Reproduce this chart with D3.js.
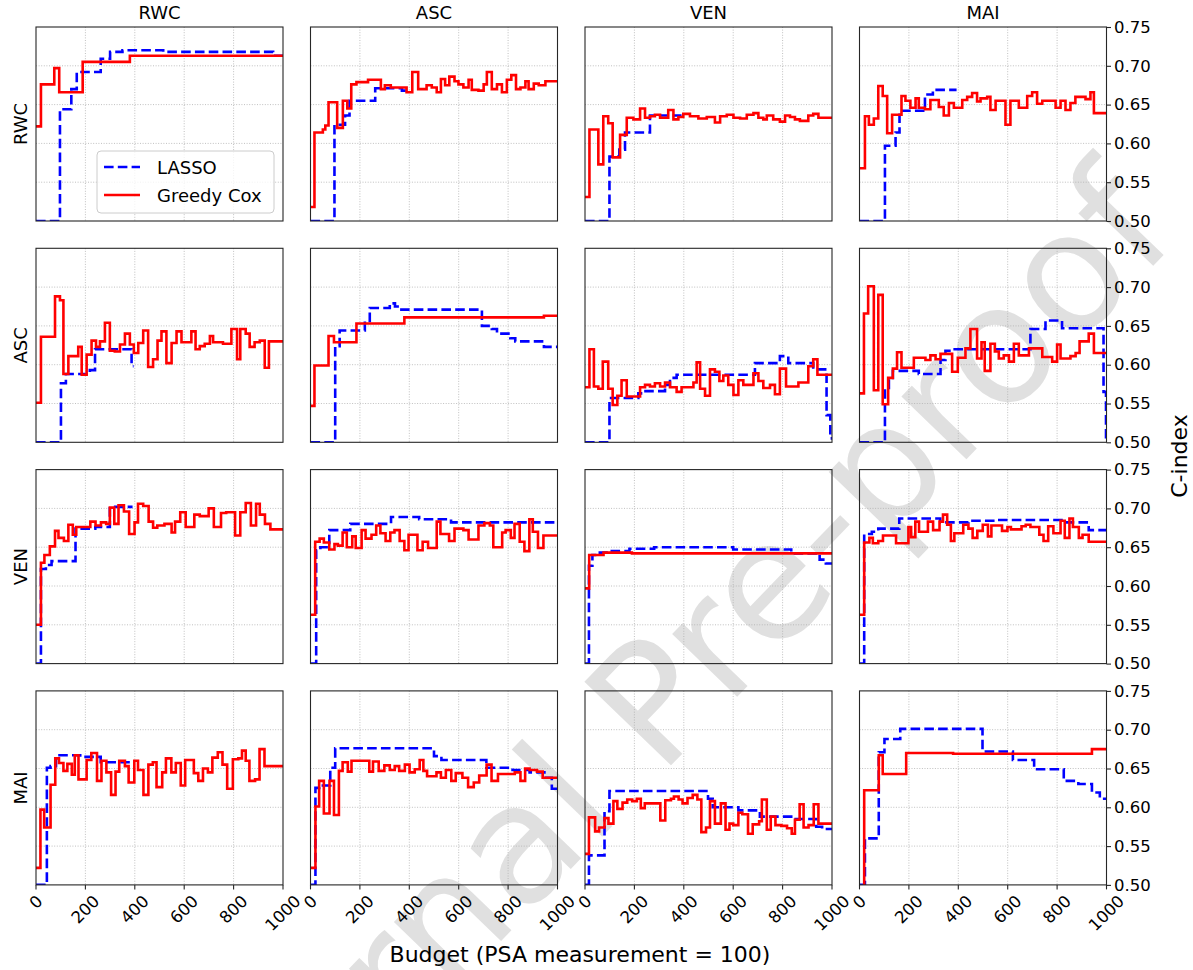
<!DOCTYPE html>
<html>
<head>
<meta charset="utf-8">
<script src="https://cdn.jsdelivr.net/npm/d3@7"></script>
<style>
    body { margin: 0; background: #fff; }
    svg { font-family: "DejaVu Sans", sans-serif; }
</style>
</head>
<body>
<svg id="chart" width="1193" height="970"></svg>
<script>
var rowNames = ["RWC", "ASC", "VEN", "MAI"];
var colNames = ["RWC", "ASC", "VEN", "MAI"];
var xTicks = [0, 200, 400, 600, 800, 1000];
var yTicks = [0.50, 0.55, 0.60, 0.65, 0.70, 0.75];
var seriesNames = ["LASSO", "Greedy Cox"];

// [budget, c-index], step after; last point = where the line stops
var greedy_RWC_RWC = [[0,0.622],[20,0.676],[74,0.697],[94,0.666],[189,0.705],[380,0.713],[1000,0.713]];
var lasso_RWC_RWC = [[0,0.5],[97,0.644],[143,0.670],[165,0.692],[262,0.709],[300,0.718],[350,0.720],[515,0.718],[960,0.713],[1000,0.713]];

var greedy_RWC_ASC = [[0,0.518],[16,0.614],[50,0.618],[60,0.623],[73,0.653],[108,0.620],[131,0.655],[149,0.645],[165,0.676],[186,0.679],[233,0.682],[285,0.670],[301,0.675],[325,0.672],[389,0.666],[412,0.692],[436,0.670],[470,0.675],[491,0.672],[511,0.666],[528,0.683],[545,0.675],[562,0.686],[583,0.680],[599,0.676],[619,0.672],[640,0.682],[653,0.669],[680,0.668],[701,0.676],[714,0.692],[734,0.670],[755,0.676],[775,0.666],[795,0.682],[813,0.688],[832,0.670],[850,0.672],[870,0.680],[883,0.670],[904,0.677],[924,0.675],[951,0.680],[1000,0.680]];
var lasso_RWC_ASC = [[0,0.5],[97,0.624],[140,0.636],[158,0.655],[262,0.671],[370,0.668],[390,0.668]];

var greedy_RWC_VEN = [[0,0.531],[18,0.618],[54,0.573],[74,0.635],[94,0.626],[112,0.582],[142,0.611],[169,0.633],[196,0.631],[223,0.645],[243,0.633],[263,0.635],[283,0.637],[304,0.633],[337,0.643],[358,0.631],[378,0.634],[398,0.638],[425,0.635],[459,0.632],[493,0.634],[526,0.627],[547,0.635],[574,0.637],[601,0.633],[628,0.632],[655,0.637],[682,0.639],[702,0.633],[722,0.631],[736,0.636],[762,0.631],[789,0.628],[810,0.636],[830,0.634],[850,0.631],[870,0.629],[904,0.636],[924,0.638],[945,0.633],[1000,0.633]];
var lasso_RWC_VEN = [[0,0.5],[99,0.583],[139,0.592],[162,0.614],[263,0.636],[391,0.636]];

var greedy_RWC_MAI = [[0,0.568],[22,0.635],[38,0.624],[58,0.632],[76,0.674],[94,0.661],[112,0.613],[132,0.637],[170,0.661],[186,0.655],[206,0.646],[227,0.658],[240,0.646],[265,0.644],[287,0.656],[321,0.647],[341,0.636],[362,0.652],[382,0.646],[416,0.656],[436,0.660],[456,0.665],[476,0.654],[490,0.658],[517,0.660],[530,0.643],[551,0.655],[591,0.624],[611,0.655],[645,0.646],[679,0.661],[699,0.666],[719,0.651],[740,0.655],[794,0.646],[814,0.655],[834,0.643],[854,0.652],[874,0.660],[915,0.657],[935,0.666],[949,0.639],[1000,0.639]];
var lasso_RWC_MAI = [[0,0.5],[103,0.597],[146,0.614],[162,0.642],[265,0.663],[297,0.669],[393,0.669]];

var greedy_ASC_RWC = [[0,0.551],[20,0.636],[77,0.688],[97,0.683],[111,0.588],[131,0.611],[171,0.623],[185,0.587],[205,0.613],[225,0.631],[243,0.623],[259,0.630],[279,0.654],[299,0.618],[319,0.617],[340,0.626],[360,0.640],[380,0.626],[396,0.615],[414,0.628],[434,0.644],[454,0.597],[474,0.607],[492,0.631],[508,0.643],[528,0.602],[549,0.628],[569,0.643],[589,0.629],[629,0.643],[646,0.620],[663,0.624],[683,0.627],[704,0.637],[717,0.629],[757,0.627],[791,0.646],[814,0.607],[827,0.646],[849,0.640],[865,0.623],[885,0.629],[906,0.631],[926,0.596],[943,0.630],[1000,0.630]];
var lasso_ASC_RWC = [[0,0.5],[101,0.576],[121,0.588],[218,0.593],[239,0.620],[387,0.598],[395,0.598]];

var greedy_ASC_ASC = [[0,0.547],[16,0.599],[73,0.637],[95,0.629],[186,0.653],[380,0.661],[945,0.663],[1000,0.663]];
var lasso_ASC_ASC = [[0,0.5],[100,0.624],[118,0.644],[220,0.654],[240,0.673],[321,0.679],[342,0.675],[368,0.671],[694,0.650],[734,0.646],[755,0.640],[809,0.634],[829,0.630],[945,0.623],[1000,0.623]];

var greedy_ASC_VEN = [[0,0.571],[18,0.620],[36,0.572],[54,0.569],[72,0.604],[94,0.569],[112,0.548],[131,0.560],[148,0.580],[169,0.559],[223,0.571],[243,0.574],[263,0.572],[283,0.576],[304,0.572],[324,0.577],[344,0.571],[371,0.565],[391,0.571],[439,0.577],[452,0.603],[466,0.569],[486,0.560],[506,0.594],[526,0.591],[544,0.579],[560,0.586],[580,0.574],[601,0.561],[621,0.580],[641,0.574],[682,0.589],[702,0.579],[722,0.570],[749,0.574],[769,0.562],[789,0.595],[814,0.572],[864,0.577],[904,0.598],[924,0.607],[941,0.587],[1000,0.587]];
var lasso_ASC_VEN = [[0,0.5],[99,0.557],[216,0.563],[239,0.566],[324,0.574],[344,0.583],[371,0.587],[688,0.602],[789,0.611],[823,0.602],[924,0.594],[978,0.535],[993,0.505],[1000,0.505]];

var greedy_ASC_MAI = [[0,0.563],[18,0.666],[35,0.701],[58,0.567],[76,0.690],[94,0.549],[116,0.583],[135,0.595],[152,0.616],[170,0.596],[220,0.609],[267,0.606],[287,0.612],[308,0.607],[328,0.614],[375,0.591],[398,0.609],[429,0.621],[449,0.646],[476,0.608],[494,0.629],[507,0.592],[530,0.627],[548,0.617],[564,0.608],[584,0.612],[605,0.604],[625,0.627],[645,0.612],[686,0.621],[740,0.610],[780,0.604],[800,0.626],[814,0.608],[854,0.611],[875,0.615],[891,0.630],[928,0.640],[949,0.615],[1000,0.615]];
var lasso_ASC_MAI = [[0,0.5],[103,0.570],[119,0.583],[135,0.592],[240,0.588],[328,0.606],[348,0.618],[375,0.620],[692,0.646],[753,0.657],[820,0.647],[988,0.565],[998,0.5],[1000,0.5]];

var greedy_VEN_RWC = [[0,0.550],[20,0.630],[34,0.640],[56,0.651],[77,0.671],[91,0.662],[113,0.658],[131,0.679],[149,0.666],[163,0.676],[220,0.683],[241,0.678],[263,0.682],[284,0.680],[299,0.701],[317,0.680],[334,0.704],[356,0.696],[377,0.667],[399,0.682],[413,0.706],[434,0.703],[456,0.683],[474,0.675],[491,0.678],[520,0.680],[549,0.669],[563,0.683],[584,0.695],[606,0.676],[641,0.692],[663,0.690],[699,0.700],[720,0.676],[749,0.694],[770,0.695],[806,0.665],[827,0.695],[849,0.707],[870,0.678],[891,0.706],[906,0.692],[927,0.680],[949,0.673],[1000,0.673]];
var lasso_VEN_RWC = [[0,0.5],[20,0.622],[40,0.627],[63,0.632],[160,0.674],[240,0.676],[299,0.702],[391,0.702]];

var greedy_VEN_ASC = [[0,0.563],[19,0.657],[37,0.661],[54,0.656],[76,0.647],[97,0.654],[111,0.652],[130,0.669],[147,0.650],[169,0.664],[183,0.649],[207,0.672],[223,0.661],[247,0.666],[266,0.678],[283,0.668],[304,0.658],[323,0.669],[340,0.672],[361,0.658],[380,0.646],[397,0.666],[433,0.646],[454,0.657],[476,0.649],[511,0.683],[526,0.667],[561,0.658],[583,0.674],[619,0.672],[640,0.660],[680,0.678],[704,0.681],[726,0.678],[740,0.650],[776,0.669],[790,0.672],[811,0.662],[826,0.680],[847,0.657],[866,0.645],[886,0.686],[900,0.670],[921,0.649],[943,0.665],[1000,0.665]];
var lasso_VEN_ASC = [[0,0.5],[23,0.646],[40,0.650],[76,0.672],[161,0.680],[326,0.689],[440,0.686],[569,0.682],[1000,0.682]];

var greedy_VEN_VEN = [[0,0.597],[17,0.640],[75,0.643],[190,0.642],[1000,0.642]];
var lasso_VEN_VEN = [[0,0.5],[16,0.626],[30,0.640],[60,0.643],[95,0.645],[180,0.648],[280,0.650],[420,0.650],[600,0.647],[835,0.642],[950,0.634],[975,0.629],[1000,0.629]];

var greedy_VEN_MAI = [[0,0.563],[19,0.656],[40,0.662],[54,0.655],[76,0.658],[95,0.665],[148,0.655],[198,0.676],[209,0.663],[226,0.683],[241,0.670],[277,0.683],[298,0.672],[324,0.683],[338,0.692],[355,0.679],[370,0.658],[384,0.668],[420,0.679],[441,0.674],[458,0.662],[477,0.671],[499,0.679],[520,0.664],[534,0.678],[577,0.671],[599,0.676],[613,0.673],[656,0.677],[673,0.679],[692,0.676],[728,0.666],[745,0.658],[764,0.677],[785,0.668],[814,0.684],[831,0.662],[850,0.687],[864,0.676],[888,0.662],[903,0.666],[928,0.657],[1000,0.657]];
var lasso_VEN_MAI = [[0,0.5],[19,0.667],[50,0.670],[76,0.674],[161,0.687],[327,0.682],[441,0.684],[555,0.685],[827,0.682],[928,0.672],[1000,0.672]];

var greedy_MAI_RWC = [[0,0.522],[18,0.597],[33,0.574],[59,0.629],[78,0.663],[93,0.657],[111,0.647],[127,0.656],[145,0.642],[157,0.667],[172,0.636],[205,0.661],[224,0.670],[247,0.634],[265,0.660],[285,0.645],[304,0.616],[322,0.646],[337,0.660],[360,0.653],[375,0.632],[398,0.660],[413,0.648],[435,0.616],[455,0.655],[473,0.658],[488,0.626],[511,0.645],[526,0.663],[548,0.645],[566,0.657],[586,0.628],[604,0.661],[639,0.644],[657,0.634],[676,0.650],[696,0.645],[714,0.664],[736,0.671],[755,0.655],[774,0.624],[797,0.662],[819,0.663],[834,0.673],[849,0.660],[864,0.634],[887,0.636],[905,0.675],[925,0.653],[1000,0.653]];
var lasso_MAI_RWC = [[0,0.5],[44,0.651],[59,0.653],[81,0.667],[179,0.665],[262,0.658],[398,0.658]];

var greedy_MAI_ASC = [[0,0.522],[20,0.601],[35,0.634],[54,0.592],[77,0.634],[95,0.590],[115,0.647],[130,0.658],[151,0.646],[166,0.660],[238,0.646],[253,0.659],[276,0.647],[299,0.654],[321,0.648],[341,0.653],[359,0.647],[382,0.655],[401,0.645],[422,0.649],[442,0.661],[457,0.647],[472,0.640],[510,0.645],[528,0.638],[548,0.648],[570,0.634],[588,0.644],[615,0.638],[638,0.626],[661,0.632],[683,0.641],[713,0.655],[733,0.634],[759,0.643],[827,0.645],[850,0.634],[869,0.650],[887,0.648],[917,0.646],[940,0.638],[1000,0.638]];
var lasso_MAI_ASC = [[0,0.5],[20,0.625],[35,0.628],[80,0.651],[100,0.676],[500,0.666],[530,0.661],[712,0.651],[818,0.648],[887,0.645],[947,0.638],[977,0.624],[1000,0.624]];

var greedy_MAI_VEN = [[0,0.540],[16,0.587],[41,0.569],[57,0.574],[79,0.586],[95,0.579],[115,0.608],[131,0.598],[152,0.606],[171,0.610],[191,0.608],[210,0.611],[226,0.599],[242,0.605],[289,0.605],[305,0.583],[325,0.609],[348,0.611],[360,0.614],[379,0.610],[395,0.605],[415,0.612],[436,0.616],[455,0.610],[471,0.568],[490,0.574],[506,0.608],[526,0.579],[550,0.605],[569,0.571],[585,0.579],[600,0.577],[621,0.593],[637,0.591],[660,0.566],[679,0.578],[705,0.582],[716,0.610],[736,0.571],[752,0.588],[771,0.577],[795,0.576],[818,0.573],[837,0.566],[850,0.584],[869,0.604],[885,0.574],[905,0.577],[926,0.604],[945,0.579],[1000,0.579]];
var lasso_MAI_VEN = [[0,0.5],[16,0.538],[79,0.595],[99,0.621],[498,0.611],[517,0.600],[621,0.596],[708,0.588],[842,0.585],[936,0.575],[960,0.572],[1000,0.572]];

var greedy_MAI_MAI = [[0,0.49],[19,0.622],[78,0.667],[94,0.643],[189,0.670],[379,0.669],[941,0.675],[1000,0.675]];
var lasso_MAI_MAI = [[0,0.5],[22,0.560],[78,0.671],[101,0.688],[165,0.701],[498,0.672],[621,0.661],[707,0.649],[827,0.634],[886,0.630],[941,0.619],[973,0.611],[1000,0.611]];

var lassoRows = [
    [lasso_RWC_RWC, lasso_RWC_ASC, lasso_RWC_VEN, lasso_RWC_MAI],
    [lasso_ASC_RWC, lasso_ASC_ASC, lasso_ASC_VEN, lasso_ASC_MAI],
    [lasso_VEN_RWC, lasso_VEN_ASC, lasso_VEN_VEN, lasso_VEN_MAI],
    [lasso_MAI_RWC, lasso_MAI_ASC, lasso_MAI_VEN, lasso_MAI_MAI]
];
var greedyRows = [
    [greedy_RWC_RWC, greedy_RWC_ASC, greedy_RWC_VEN, greedy_RWC_MAI],
    [greedy_ASC_RWC, greedy_ASC_ASC, greedy_ASC_VEN, greedy_ASC_MAI],
    [greedy_VEN_RWC, greedy_VEN_ASC, greedy_VEN_VEN, greedy_VEN_MAI],
    [greedy_MAI_RWC, greedy_MAI_ASC, greedy_MAI_VEN, greedy_MAI_MAI]
];

var svg = d3.select("#chart");
var colX = [36, 310.5, 585, 859.5],
    rowY = [27, 248.3, 469.6, 690.9],
    pw = 247,
    ph = 194;

var x = d3.scaleLinear().domain([0, 1000]).range([0, pw]);
var y = d3.scaleLinear().domain([0.5, 0.75]).range([ph, 0]);

var line = d3.line()
    .x(function (d) { return x(d[0]); })
    .y(function (d) { return y(d[1]); })
    .curve(d3.curveStepAfter);

//watermark
svg.append("text")
    .text("Journal Pre-proof")
    .attr("text-anchor", "middle")
    .attr("transform", "translate(704,731) rotate(-46)")
    .style("font-size", "165px")
    .style("fill", "#e0e0e0");

svg.append("defs").append("clipPath").attr("id", "clip")
    .append("rect").attr("width", pw).attr("height", ph);

rowNames.forEach(function (rn, r) {
    colNames.forEach(function (cn, c) {
        var g = svg.append("g").attr("transform", "translate(" + colX[c] + "," + rowY[r] + ")");

        g.selectAll(".gx").data(xTicks.slice(1, -1)).enter().append("line")
            .attr("x1", function (d) { return x(d); }).attr("x2", function (d) { return x(d); })
            .attr("y1", 0).attr("y2", ph)
            .style("stroke", "#b0b0b0").style("stroke-width", 0.8).style("stroke-dasharray", "1,1.6");
        g.selectAll(".gy").data(yTicks.slice(1, -1)).enter().append("line")
            .attr("y1", function (d) { return y(d); }).attr("y2", function (d) { return y(d); })
            .attr("x1", 0).attr("x2", pw)
            .style("stroke", "#b0b0b0").style("stroke-width", 0.8).style("stroke-dasharray", "1,1.6");

        var lines = g.append("g").attr("clip-path", "url(#clip)");
        lines.append("path").attr("d", line(lassoRows[r][c]))
            .style("fill", "none").style("stroke", "#0000ff").style("stroke-width", 2.6)
            .style("stroke-dasharray", "9.6,4.2");
        lines.append("path").attr("d", line(greedyRows[r][c]))
            .style("fill", "none").style("stroke", "#ff0000").style("stroke-width", 2.6);

        g.append("rect").attr("width", pw).attr("height", ph)
            .style("fill", "none").style("stroke", "#262626").style("stroke-width", 1.1);

        // right y axis only on last column
        if (c == 3) {
            var ya = g.append("g").attr("transform", "translate(" + pw + ",0)")
                .call(d3.axisRight(y).tickValues(yTicks).tickFormat(d3.format(".2f")).tickSize(4.5).tickPadding(3));
            ya.select(".domain").remove();
            ya.selectAll("line").style("stroke", "#262626").style("stroke-width", 1.1);
            ya.selectAll("text").style("font-size", "16.5px").style("fill", "#000")
                .attr("font-family", "DejaVu Sans");
        }
        // bottom x axis only on last row
        if (r == 3) {
            var xa = g.append("g").attr("transform", "translate(0," + ph + ")");
            xa.selectAll("line").data(xTicks).enter().append("line")
                .attr("x1", function (d) { return x(d); }).attr("x2", function (d) { return x(d); })
                .attr("y1", 0).attr("y2", 4.5)
                .style("stroke", "#262626").style("stroke-width", 1.1);
            xa.selectAll("text").data(xTicks).enter().append("text")
                .text(function (d) { return d; })
                .attr("text-anchor", "middle")
                .attr("dominant-baseline", "central")
                .style("font-size", "16.5px")
                .attr("transform", function (d) {
                    var w = String(d).length * 0.636 * 16.5, h = 16.5 * 0.95;
                    var half = (w + h) * 0.7071 / 2;
                    return "translate(" + x(d) + "," + (8 + half) + ") rotate(-45)";
                });
        }
        if (r == 0) {
            g.append("text").text(cn)
                .attr("x", pw / 2).attr("y", -8)
                .attr("text-anchor", "middle")
                .style("font-size", "18px");
        }
        if (c == 0) {
            g.append("text").text(rn)
                .attr("text-anchor", "middle")
                .attr("transform", "translate(-9," + (ph / 2) + ") rotate(-90)")
                .style("font-size", "18px");
        }

        // legend in the first panel
        if (r == 0 && c == 0) {
            var lg = g.append("g").attr("transform", "translate(61,124)");
            lg.append("rect").attr("width", 177).attr("height", 62).attr("rx", 4)
                .style("fill", "#fff").style("fill-opacity", 0.8)
                .style("stroke", "#cccccc").style("stroke-width", 1);
            seriesNames.forEach(function (s, i) {
                var yy = 16 + i * 28;
                lg.append("line").attr("x1", 7).attr("x2", 43).attr("y1", yy).attr("y2", yy)
                    .style("stroke", i == 0 ? "#0000ff" : "#ff0000").style("stroke-width", 2.6)
                    .style("stroke-dasharray", i == 0 ? "9.6,4.2" : null);
                lg.append("text").text(s)
                    .attr("x", 60).attr("y", yy).attr("dominant-baseline", "central")
                    .style("font-size", "18px");
            });
        }
    });
});

svg.append("text").text("Budget (PSA measurement = 100)")
    .attr("x", 580).attr("y", 962)
    .attr("text-anchor", "middle")
    .style("font-size", "22px");

svg.append("text").text("C-index")
    .attr("text-anchor", "middle")
    .attr("transform", "translate(1187,456) rotate(-90)")
    .style("font-size", "22px");
</script>
</body>
</html>
